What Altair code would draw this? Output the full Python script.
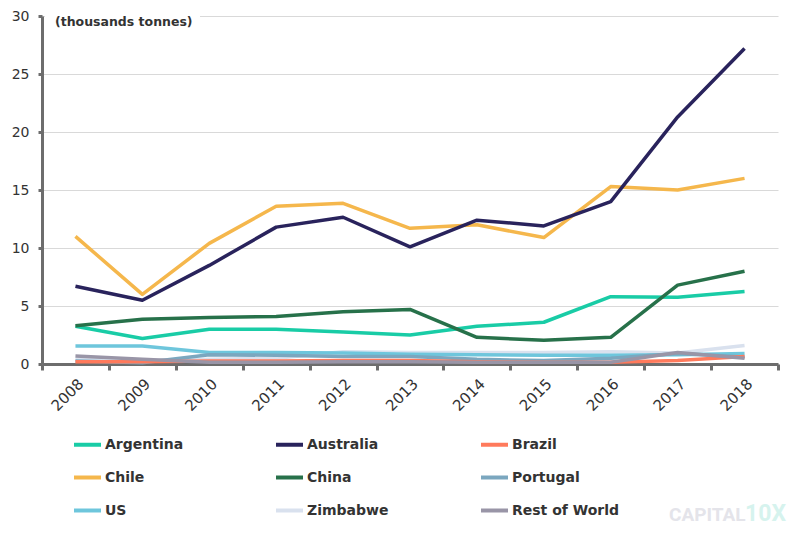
import altair as alt
import pandas as pd

years = [str(y) for y in range(2008, 2019)]

argentina = [3.25, 2.2, 3.0, 3.0, 2.75, 2.5, 3.25, 3.6, 5.8, 5.75, 6.25]
australia = [6.7, 5.5, 8.5, 11.8, 12.65, 10.1, 12.4, 11.9, 14.0, 21.3, 27.2]
brazil = [0.2, 0.2, 0.25, 0.25, 0.3, 0.3, 0.2, 0.15, 0.15, 0.3, 0.65]
chile = [11.0, 6.0, 10.4, 13.6, 13.85, 11.7, 12.0, 10.9, 15.3, 15.0, 16.0]
china = [3.3, 3.85, 4.0, 4.1, 4.5, 4.7, 2.3, 2.05, 2.3, 6.8, 8.0]
portugal = [0.25, 0.1, 0.8, 0.75, 0.65, 0.65, 0.4, 0.3, 0.5, 0.9, 0.6]
us = [1.55, 1.55, 1.0, 1.0, 0.95, 0.85, 0.8, 0.75, 0.75, 0.8, 0.9]
zimbabwe = [0.4, 0.3, 0.4, 0.5, 1.05, 1.0, 1.0, 1.0, 1.05, 0.95, 1.6]
rest_of_world = [0.7, 0.4, 0.15, 0.15, 0.2, 0.2, 0.15, 0.15, 0.15, 1.0, 0.5]

# order chosen so that the 3-column legend reads row by row like the reference
legend_order = ["Argentina", "Chile", "US",
                "Australia", "China", "Zimbabwe",
                "Brazil", "Portugal", "Rest of World"]
colors = ["#19CCA6", "#F5B74C", "#6EC6DC",
          "#29235C", "#27714A", "#D9E1EE",
          "#FF7A5C", "#7BA7BF", "#9995A7"]

series = {
    "Zimbabwe": zimbabwe,
    "US": us,
    "Portugal": portugal,
    "Brazil": brazil,
    "Rest of World": rest_of_world,
    "Argentina": argentina,
    "China": china,
    "Chile": chile,
    "Australia": australia,
}

rows = []
for name, vals in series.items():
    for yr, v in zip(years, vals):
        rows.append({"country": name, "year": yr, "value": v})
df = pd.DataFrame(rows)

FONT = "DejaVu Sans"
AXIS_GRAY = "#6d6d6d"

lines = alt.Chart(df).mark_line(strokeWidth=3.5, strokeJoin="round").encode(
    x=alt.X("year:O",
            scale=alt.Scale(type="band", paddingInner=0, paddingOuter=0),
            axis=alt.Axis(title=None, labelAngle=-45, tickBand="extent",
                          labelFont=FONT, labelFontSize=15, labelColor="#333333",
                          domainColor=AXIS_GRAY, domainWidth=3,
                          tickColor=AXIS_GRAY, tickWidth=3, tickSize=6,
                          labelPadding=6, grid=False)),
    y=alt.Y("value:Q",
            scale=alt.Scale(domain=[0, 30], nice=False),
            axis=alt.Axis(title=None, values=[0, 5, 10, 15, 20, 25, 30],
                          labelFont=FONT, labelFontSize=14, labelColor="#333333",
                          domainColor=AXIS_GRAY, domainWidth=3,
                          tickColor=AXIS_GRAY, tickWidth=3, tickSize=4,
                          labelPadding=9, grid=True, gridColor="#d9d9d9",
                          gridWidth=1)),
    color=alt.Color("country:N",
                    scale=alt.Scale(domain=legend_order, range=colors),
                    sort=legend_order,
                    legend=alt.Legend(title=None, orient="none",
                                      legendX=30, legendY=413,
                                      columns=3, columnPadding=84,
                                      rowPadding=9,
                                      symbolType="stroke", symbolSize=729,
                                      symbolStrokeWidth=4,
                                      labelFont=FONT, labelFontSize=14,
                                      labelFontWeight="bold",
                                      labelColor="#333333",
                                      labelOffset=2, labelLimit=200)),
)

cover = alt.Chart(pd.DataFrame({"a": [0]})).mark_rect(fill="white").encode(
    x=alt.value(3), x2=alt.value(158), y=alt.value(-3), y2=alt.value(4)
)

title_df = pd.DataFrame({"t": ["(thousands tonnes)"]})
title = alt.Chart(title_df).mark_text(
    align="left", baseline="top", font=FONT, fontSize=12.5, fontWeight="bold",
    color="#333333"
).encode(x=alt.value(13), y=alt.value(0), text="t:N")

wm1 = alt.Chart(pd.DataFrame({"t": ["CAPITAL"]})).mark_text(
    align="left", baseline="middle", font="Roboto", fontSize=19, fontWeight="bold",
    color="#e4e4ea"
).encode(x=alt.value(627), y=alt.value(499), text="t:N")

wm2 = alt.Chart(pd.DataFrame({"t": ["10X"]})).mark_text(
    align="left", baseline="middle", font="Roboto", fontSize=23, fontWeight="bold",
    color="#d6f3ee"
).encode(x=alt.value(703), y=alt.value(498), text="t:N")

chart = alt.layer(lines, cover, title, wm1, wm2).properties(
    width=736, height=348,
    autosize=alt.AutoSizeParams(type="none"),
    padding={"left": 34, "top": 8, "right": 14, "bottom": 162},
    background="white",
).configure_view(stroke=None)

chart.save("out.html", embed_options={"renderer": "svg", "actions": False})
